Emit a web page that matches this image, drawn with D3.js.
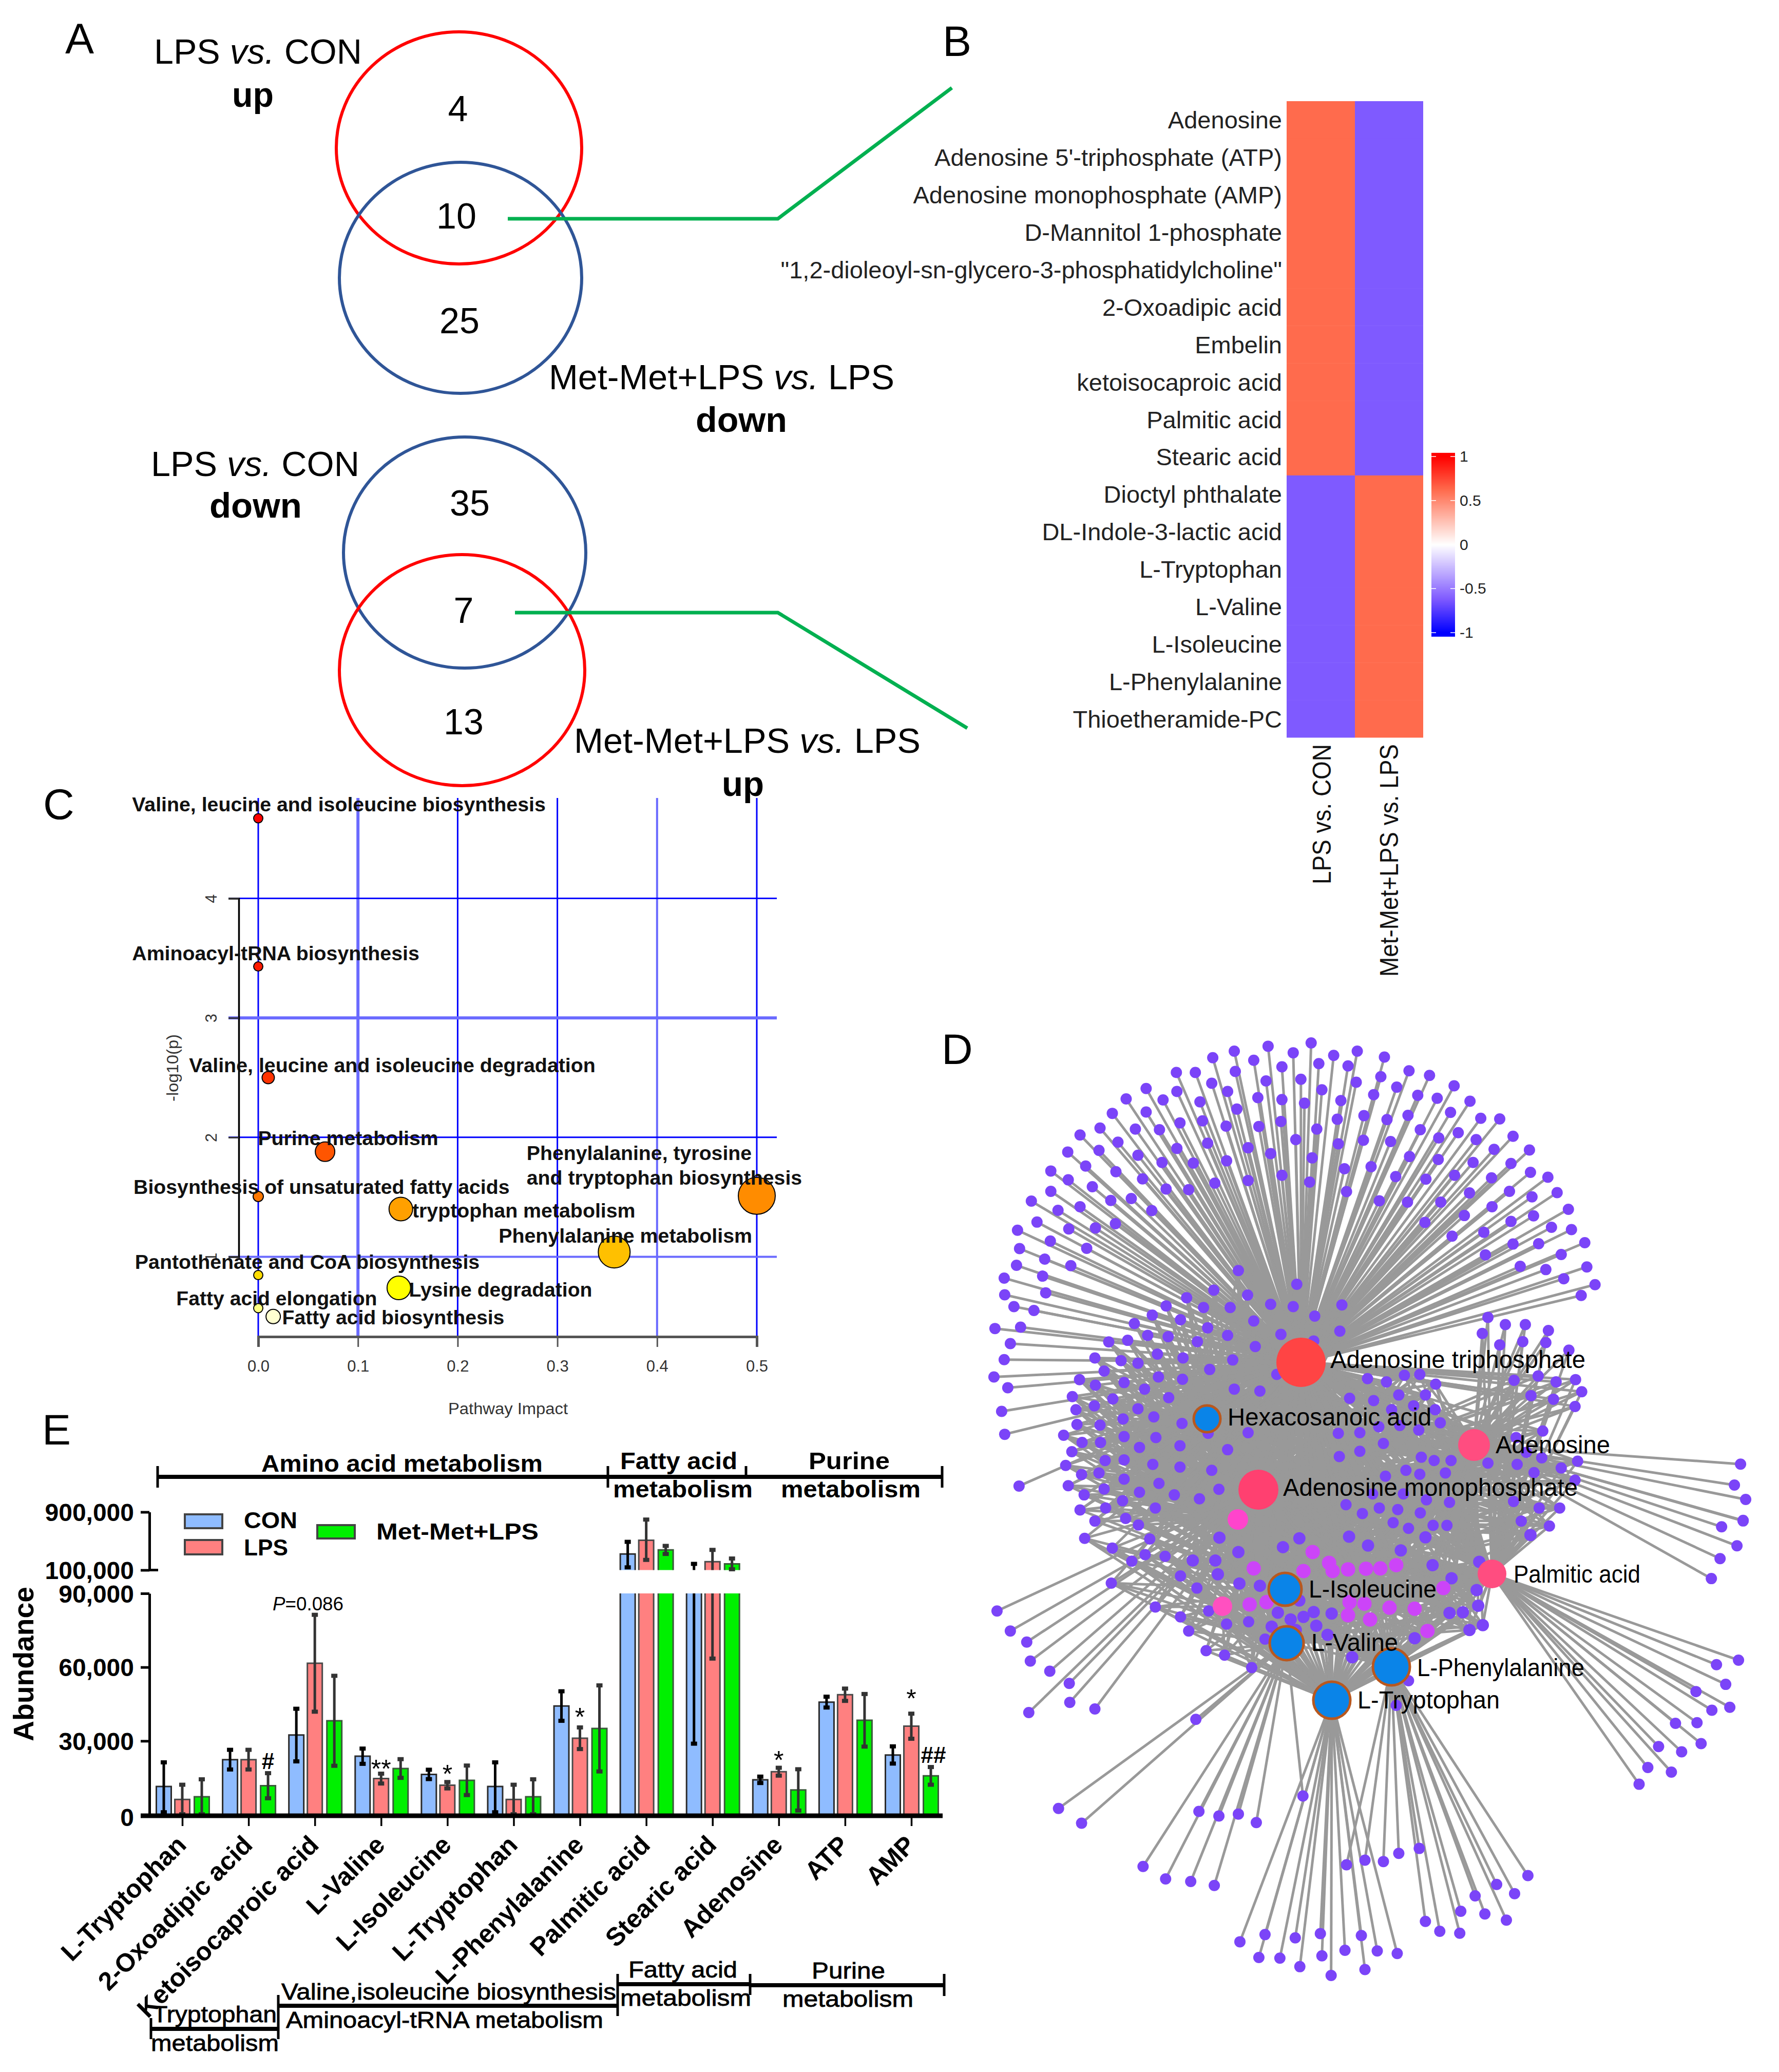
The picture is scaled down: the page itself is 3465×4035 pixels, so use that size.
<!DOCTYPE html>
<html><head><meta charset="utf-8">
<script src="https://cdnjs.cloudflare.com/ajax/libs/d3/7.8.5/d3.min.js"></script>
<style>
html,body{margin:0;padding:0;background:#fff}
text{font-family:"Liberation Sans",Arial,sans-serif}
</style></head><body><svg id="c" width="3465" height="4035" xmlns="http://www.w3.org/2000/svg"></svg>
<script>
// ---------- DATA ----------
const heatRows=["Adenosine","Adenosine 5'-triphosphate (ATP)","Adenosine monophosphate (AMP)","D-Mannitol 1-phosphate","\"1,2-dioleoyl-sn-glycero-3-phosphatidylcholine\"","2-Oxoadipic acid","Embelin","ketoisocaproic acid","Palmitic acid","Stearic acid","Dioctyl phthalate","DL-Indole-3-lactic acid","L-Tryptophan","L-Valine","L-Isoleucine","L-Phenylalanine","Thioetheramide-PC"];
const heatCols=["LPS vs. CON","Met-Met+LPS vs. LPS"];
const heatLpsCon=[.62,.62,.62,.62,.62,.62,.62,.62,.62,.62,-.62,-.62,-.62,-.62,-.62,-.62,-.62];
const heatMetLps=[-.62,-.62,-.62,-.62,-.62,-.62,-.62,-.62,-.62,-.62,.62,.62,.62,.62,.62,.62,.62];
const heatTicks=[1,.5,0,-.5,-1];

const pathNames=["Valine, leucine and isoleucine biosynthesis","Aminoacyl-tRNA biosynthesis","Valine, leucine and isoleucine degradation","Purine metabolism","Biosynthesis of unsaturated fatty acids","tryptophan metabolism","Phenylalanine, tyrosine and tryptophan biosynthesis","Phenylalanine metabolism","Pantothenate and CoA biosynthesis","Lysine degradation","Fatty acid elongation","Fatty acid biosynthesis"];
const pathImpact=[0,0,.01,.067,0,.143,.5,.357,0,.141,0,.015];
const pathLogP=[4.67,3.43,2.5,1.88,1.505,1.4,1.51,1.04,.847,.74,.57,.5];
const pathSize=[9,9,12,19,10,23,36,31,9,23,9,14];
const pathFill=["#ff0000","#ff1a00","#ff3300","#ff5500","#ff7700","#ffa000","#ff8c00","#ffc000","#ffdd00","#ffff00","#ffff80","#ffffd0"];

const abCats=["L-Tryptophan","2-Oxoadipic acid","Ketoisocaproic acid","L-Valine","L-Isoleucine","L-Tryptophan","L-Phenylalanine","Palmitic acid","Stearic acid","Adenosine","ATP","AMP"];
const conMean=[11500,22400,32400,23800,16400,11500,44200,322000,100000,14200,45800,24300];
const conHigh=[21300,26400,43100,26900,18300,21300,50200,489000,185000,15500,48000,27800];
const conLow =[1000,18400,21700,20700,14500,1000,38200,137000,28900,12900,43600,20800];
const lpsMean=[6200,22400,61600,14700,12000,6200,31100,511000,215000,17500,48800,36000];
const lpsHigh=[12200,26400,81300,16700,13300,12200,35500,796000,378000,19100,51300,41100];
const lpsLow =[200,18400,41900,12700,10700,200,26700,240000,63500,15900,46300,30900];
const metMean=[7300,11800,38200,18800,14000,7300,35100,378000,185000,10100,38400,15800];
const metHigh=[14400,16900,56500,22600,20000,14400,52600,433000,259000,18500,49100,19400];
const metLow =[200,6700,19900,15000,8000,200,17600,322000,111000,1700,27700,12200];
const lowTicks=[0,30000,60000,90000];
const highTicks=[100000,900000];
const sigMarks=["#","**","*","*","*","*","##"];
const sigGroup=[1,3,4,6,9,11,11];
const sigSeries=[2,1,1,1,1,1,2];

// network leaves in two overlapping views
const leavesTopFan=[[655,80],[571,90],[505,105],[463,125],[620,110],[699,118],[745,105],[798,123],[846,165],[886,179],[934,211],[965,258],[986,310],[1023,312],[1049,365],[1081,407],[1083,475],[1117,490],[1135,537],[1157,588],[1163,650],[1189,690],[1193,764],[1209,818],[1182,851],[392,170],[429,170],[333,219],[294,251],[267,295],[243,340],[204,361],[180,413],[147,471],[147,533],[109,563],[82,652],[86,708],[80,759],[56,798],[57,849],[75,885],[38,952],[543,133],[598,153],[670,143],[727,150],[791,183],[822,215],[863,240],[901,249],[927,292],[942,354],[977,375],[1012,405],[1045,448],[1007,492],[1042,533],[1086,550],[1008,580],[1089,608],[1045,625],[1124,643],[1049,694],[1099,693],[1143,726],[1063,762],[1113,772],[1148,800],[507,167],[567,196],[635,191],[743,200],[777,238],[803,314],[844,301],[868,345],[904,370],[903,436],[971,445],[935,484],[964,538],[954,607],[992,658],[930,670],[995,727],[461,203],[492,228],[551,247],[598,253],[642,264],[713,256],[676,223],[758,302],[706,313],[596,320],[553,335],[510,282],[438,260],[393,228],[366,254],[333,291],[312,343],[359,345],[399,324],[443,318],[489,334],[278,383],[241,408],[215,456],[181,498],[161,591],[120,627],[146,685],[135,740],[131,792],[137,843],[114,897],[88,948],[393,402],[317,423],[364,445],[274,473],[228,519],[204,580],[182,648],[217,707],[186,760],[264,561],[304,555],[344,592],[234,645],[273,632],[453,386],[532,400],[576,418],[625,375],[666,343],[708,388],[757,377],[810,381],[847,427],[772,458],[720,464],[657,431],[598,484],[652,505],[724,534],[788,562],[843,566],[877,628],[908,566],[820,488],[879,496],[490,440],[425,447],[326,495],[372,526],[416,528],[467,508],[532,500],[68,998],[56,1047],[36,1100],[63,1133],[51,1205],[57,1275],[85,1433]];
const leavesInnerRing=[[513,775],[627,817],[465,835],[531,850],[412,858],[372,883],[345,911],[445,888],[497,888],[576,878],[620,885],[715,880],[662,914],[543,929],[400,925],[310,937],[453,950],[492,973],[596,970],[711,960],[660,990],[546,1007],[433,992],[376,977],[336,973],[297,988],[260,993]];
const leavesLeftMid=[[233,1042],[284,1050],[355,1030],[405,1042],[502,1048],[317,1058],[457,1077],[251,1082],[357,1100],[404,1107],[203,1108],[234,1125],[290,1117],[330,1137],[505,1137],[555,1143],[588,1092],[189,1160],[268,1167],[377,1163],[232,1188],[196,1200],[317,1197],[348,1222],[243,1247],[198,1245],[288,1228],[403,1242],[454,1272],[532,1270],[172,1278],[208,1300],[244,1300],[290,1282],[352,1285],[399,1310],[320,1315],[492,1322],[188,1328],[253,1355],[290,1353],[346,1367],[176,1370],[399,1375],[207,1398],[241,1393],[461,1385],[290,1412],[181,1432],[358,1425],[251,1442],[320,1452],[475,1443],[437,1472],[388,1460],[212,1460],[287,1478],[204,1506],[254,1500],[351,1500],[233,1540],[293,1532],[318,1552]];
const leavesRightUp=[[1000,918],[1034,940],[1073,940],[1118,958],[989,967],[1023,1002],[1068,992],[1113,995],[1158,1018]];
const leavesRightFan=[[1051,1110],[1098,1097],[1133,1115],[1171,1108],[1183,1145],[1084,1157],[1128,1168],[1170,1190]];
const leavesRightMid=[[837,1095],[867,1092],[765,1105],[802,1115],[898,1122],[730,1165],[777,1172],[826,1155],[878,1155],[812,1200],[855,1188],[897,1200],[907,1240],[865,1262],[828,1248],[787,1252],[708,1272],[750,1270],[796,1303],[710,1343],[750,1327],[870,1345],[895,1355],[928,1355],[800,1403],[840,1385],[867,1397],[917,1393],[1000,1363],[1057,1367],[1090,1392],[1105,1347],[1143,1378],[1175,1357],[1170,1415],[1107,1265],[1055,1285],[1075,1330],[775,1457],[835,1457],[880,1475],[925,1483],[1050,1480],[1100,1500],[1140,1500],[723,1490],[755,1517],[788,1500],[824,1505],[868,1515],[893,1553],[920,1553],[815,1545],[845,1562],[1065,1540],[1120,1555]];
const leavesAdenFarTop=[[1493,1366],[1481,1430],[1503,1474],[1498,1538]];
const leavesAdenFarLow=[[1456,115],[1498,97],[1486,173],[1453,212],[1436,273]];
const leavesCentre=[[600,177],[632,150],[729,145],[766,172],[830,187],[878,147],[513,192],[476,148],[515,288],[555,295],[473,260],[468,218],[424,218],[892,232],[983,222],[929,272],[978,308],[981,356],[990,415],[964,430],[925,378],[951,376],[632,340],[590,377],[615,398],[640,390],[660,375],[695,380],[578,420],[625,430],[665,417],[687,445],[857,455],[735,513],[1083,140]];
const leavesCentrePink=[[543,242],[640,250],[690,225],[697,250],[727,245],[762,243],[790,242],[821,232],[658,192],[913,302],[882,433],[857,365],[808,362],[759,350],[730,345],[770,398],[727,385],[568,345],[535,352]];
const leavesLeftLow=[[213,150],[267,180],[340,152],[305,220],[331,200],[370,205],[400,265],[265,287],[432,302],[351,360],[400,390],[455,372],[416,433],[490,412],[533,405],[450,493],[486,507],[539,545],[565,458]];
const leavesLeftFar=[[42,372],[68,433],[100,467],[107,525],[145,556],[183,593],[184,651],[104,682],[233,671]];
const leavesValFan=[[430,703],[162,975],[207,1020],[436,984],[475,998],[513,992],[548,1018],[639,937],[327,1152],[371,1190],[420,1198],[466,1210]];
const leavesTrpFan=[[516,1382],[565,1360],[624,1370],[673,1357],[753,1363],[553,1430],[594,1432],[676,1425],[721,1408],[784,1410],[823,1418],[633,1458],[760,1467],[694,1485]];
const leavesPheFan=[[845,585],[821,660],[724,1147],[760,1133],[796,1137],[826,1112],[866,1097],[1078,1180],[1017,1207],[1052,1235],[975,1242],[947,1289],[994,1297],[1036,1316],[878,1320],[906,1350],[945,1356]];
const leavesPalFan=[[1489,522],[1446,536],[1464,596],[1406,618],[1472,666],[1437,675],[1366,715],[1408,713],[1416,777],[1333,786],[1378,802],[1312,850],[1358,864],[1295,901]];
const hubNames=["Adenosine triphosphate","Hexacosanoic acid","Adenosine","Adenosine monophosphate","","Palmitic acid","L-Isoleucine","","L-Valine","L-Phenylalanine","L-Tryptophan"];
const hubX=[2534,2351,2871,2451,2411,2906,2503,2381,2506,2710,2594];
const hubY=[2653,2763,2814,2901,2959,3065,3095,3128,3200,3246,3311];
const hubR=[48,26,31,39,20,28,32,19,33,36,36];
const hubFill=["#ff4444","#0a84e8","#ff4d80","#ff4070","#ff44cc","#ff4d80","#0a84e8","#ff50c0","#0a84e8","#0a84e8","#0a84e8"];

// ---------- LAYOUT HELPERS ----------
const svg=d3.select("#c");
svg.append("rect").attr("width",3465).attr("height",4035).attr("fill","#fff");
function txt(g,s,x1,x2,y,size,o={}){
  const t=g.append("text").attr("x",x1).attr("y",y).attr("font-size",size)
   .attr("textLength",x2-x1).attr("lengthAdjust","spacingAndGlyphs")
   .attr("font-weight",o.w||400).attr("fill",o.c||"#000").text(s);
  if(o.s)t.attr("stroke",o.c||"#000").attr("stroke-width",o.s);
  return t;
}
function vtxt(g,s,x,yTop,yBottom,size,o={}){
  const t=g.append("text").attr("transform",`translate(${x},${yBottom}) rotate(-90)`).attr("font-size",size)
   .attr("textLength",yBottom-yTop).attr("lengthAdjust","spacingAndGlyphs")
   .attr("font-weight",o.w||400).attr("fill",o.c||"#000").text(s);
  return t;
}
function vs(g,a,b,x1,x2,y,size){
  const t=g.append("text").attr("x",x1).attr("y",y).attr("font-size",size)
    .attr("textLength",x2-x1).attr("lengthAdjust","spacingAndGlyphs");
  t.append("tspan").text(a+" ");t.append("tspan").attr("font-style","italic").text("vs.");t.append("tspan").text(" "+b);
}
[["A",127,104],["B",1836,109],["C",84,1595],["D",1834,2072],["E",82,2813]].forEach(d=>
  svg.append("text").attr("x",d[1]).attr("y",d[2]).attr("font-size",84).text(d[0]));

// ---------- A ----------
const A=svg.append("g");
[[894,288,239,226,"#ff0000"],[897,541,236,225,"#2f5597"],[905,1076,236,225,"#2f5597"],[900,1305,239,225,"#ff0000"]].forEach(e=>
 A.append("ellipse").attr("cx",e[0]).attr("cy",e[1]).attr("rx",e[2]).attr("ry",e[3]).attr("fill","none").attr("stroke",e[4]).attr("stroke-width",6));
[[[989,426],[1515,426],[1854,171]],[[1003,1193],[1515,1193],[1884,1418]]].forEach(p=>
 A.append("path").attr("d",d3.line()(p)).attr("fill","none").attr("stroke","#00b050").attr("stroke-width",7));
vs(A,"LPS","CON",300,705,124,68);vs(A,"LPS","CON",294,700,927,68);
vs(A,"Met-Met+LPS","LPS",1069,1742,758,68);vs(A,"Met-Met+LPS","LPS",1118,1793,1466,68);
txt(A,"up",452,533,208,68,{w:700});txt(A,"down",408,588,1008,68,{w:700});
txt(A,"down",1355,1533,841,68,{w:700});txt(A,"up",1406,1488,1550,68,{w:700});
[["4",892,236],["10",889,445],["25",895,649],["35",915,1004],["7",903,1213],["13",903,1430]].forEach(d=>
 A.append("text").attr("x",d[1]).attr("y",d[2]).attr("font-size",70).attr("text-anchor","middle").text(d[0]));

// ---------- B ----------
const B=svg.append("g");
const hx=d3.scaleBand().domain(heatCols).range([2506,2772]);
const hy=d3.scaleBand().domain(heatRows).range([197,1436]);
const hc=d3.scaleLinear().domain([-1,-.62,0,.62,1]).range(["#0000ff","#7f5aff","#ffffff","#ff6b4d","#ff0000"]);
[heatLpsCon,heatMetLps].forEach((vals,c)=>B.selectAll(null).data(vals).join("rect")
 .attr("x",hx(heatCols[c])).attr("y",(d,i)=>hy(heatRows[i])).attr("width",hx.bandwidth()).attr("height",hy.bandwidth()+.5).attr("fill",d=>hc(d)));
B.selectAll(null).data(heatRows).join("text").attr("x",2497).attr("y",d=>hy(d)+hy.bandwidth()/2+17).attr("text-anchor","end").attr("font-size",47).attr("fill","#222").text(d=>d);
vtxt(B,heatCols[0],2592,1449,1722,50,{c:"#111"});
vtxt(B,heatCols[1],2723,1449,1902,50,{c:"#111"});
const cby=d3.scaleLinear().domain([-1,1]).range([1232,889]);
B.selectAll(null).data(d3.range(-1.04,1.04,.01)).join("rect").attr("x",2788).attr("width",46).attr("y",d=>cby(d)-2).attr("height",3).attr("fill",d=>hc(Math.max(-1,Math.min(1,d))));
heatTicks.forEach(t=>{
 B.append("line").attr("x1",2788).attr("x2",2797).attr("y1",cby(t)).attr("y2",cby(t)).attr("stroke","#fff").attr("stroke-width",1.5);
 B.append("line").attr("x1",2825).attr("x2",2834).attr("y1",cby(t)).attr("y2",cby(t)).attr("stroke","#fff").attr("stroke-width",1.5);
 B.append("text").attr("x",2843).attr("y",cby(t)+10).attr("font-size",30).attr("fill","#222").text(t);
});

// ---------- C ----------
const C=svg.append("g");
const cx=d3.scaleLinear().domain([0,.5]).range([503,1474]);
const cy=d3.scaleLinear().domain([1,4]).range([2447.5,1749.5]);
[0,.1,.2,.3,.4,.5].forEach(v=>C.append("line").attr("x1",cx(v)).attr("x2",cx(v)).attr("y1",1554).attr("y2",2603)
  .attr("stroke",(v==.1||v==.4)?"#6a6aff":"#0000ff").attr("stroke-width",(v==.1)?6:(v==.4?4:3)));
[1,2,3,4].forEach(v=>C.append("line").attr("x1",445).attr("x2",1513).attr("y1",cy(v)).attr("y2",cy(v))
  .attr("stroke",(v==3||v==1)?"#6a6aff":"#0000ff").attr("stroke-width",(v==3)?6:(v==1?4:3)));
const cxa=C.append("g").attr("transform","translate(0,2603)").call(d3.axisBottom(cx).tickValues([0,.1,.2,.3,.4,.5]).tickFormat(d3.format(".1f")).tickSize(20));
cxa.select(".domain").attr("stroke","#555").attr("stroke-width",5);
cxa.selectAll("line").attr("stroke","#555").attr("stroke-width",3);
cxa.selectAll("text").attr("font-size",31).attr("fill","#333").attr("font-family","Liberation Sans").attr("y",46).attr("dy",".7em");
const cya=C.append("g").attr("transform","translate(465,0)").call(d3.axisLeft(cy).tickValues([1,2,3,4]).tickFormat(d3.format("d")).tickSize(20));
cya.select(".domain").attr("stroke","#000").attr("stroke-width",3.5);
cya.selectAll("line").attr("stroke","#333").attr("stroke-width",3);
cya.selectAll("text").attr("font-size",31).attr("fill","#333").attr("font-family","Liberation Sans").attr("text-anchor","middle").attr("x",0).attr("dy",0).attr("transform","translate(-43,0) rotate(-90)").attr("y",0);
vtxt(C,"-log10(p)",347,2014,2145,31,{c:"#333"});
txt(C,"Pathway Impact",873,1106,2754,31,{c:"#333"});
C.selectAll(null).data(pathNames).join("circle").attr("cx",(d,i)=>cx(pathImpact[i])).attr("cy",(d,i)=>cy(pathLogP[i])).attr("r",(d,i)=>pathSize[i]).attr("fill",(d,i)=>pathFill[i]).attr("stroke","#000").attr("stroke-width",2);
const zx=v=>200+v*1450/1568, zy=v=>1500+v*1300/1568;
[["Valine, leucine and isoleucine biosynthesis",62,933,97],["Aminoacyl-tRNA biosynthesis",62,667,446],["Valine, leucine and isoleucine degradation",182,1038,709],["Purine metabolism",327,707,880],["Phenylalanine, tyrosine",893,1367,916],["and tryptophan biosynthesis",893,1473,973],["Biosynthesis of unsaturated fatty acids",65,857,995],["tryptophan metabolism",652,1122,1050],["Phenylalanine metabolism",834,1368,1110],["Pantothenate and CoA biosynthesis",68,794,1171],["Lysine degradation",645,1031,1236],["Fatty acid elongation",155,578,1257],["Fatty acid biosynthesis",378,846,1302]]
 .forEach(d=>txt(C,d[0],zx(d[1]),zx(d[2]),zy(d[3]),38,{w:700,c:"#111"}));

// ---------- E ----------
const E=svg.append("g");
const yLow=d3.scaleLinear().domain([0,90000]).range([3534,3103]);
const yHigh=d3.scaleLinear().domain([100000,900000]).range([3057.5,2944.5]);
const xE=d3.scalePoint().domain(d3.range(abCats.length)).range([355,1775]);
const off=[-36,0,38], barW=29;
const series=[{m:conMean,h:conHigh,l:conLow,f:"#8fbcff",s:"#2b2b2b",e:"#000"},{m:lpsMean,h:lpsHigh,l:lpsLow,f:"#ff8080",s:"#4a4a4a",e:"#333"},{m:metMean,h:metHigh,l:metLow,f:"#00f000",s:"#3a5a3a",e:"#333"}];
series.forEach((S,k)=>{
 const gs=E.append("g");
 S.m.forEach((m,i)=>{
  const xc=xE(i)+off[k], x0=xc-barW/2, x1=xc+barW/2;
  const topLow=yLow(Math.min(m,90000));
  gs.append("rect").attr("x",x0).attr("y",topLow).attr("width",barW).attr("height",yLow(0)-topLow).attr("fill",S.f);
  gs.append("path").attr("d",m>90000?`M${x0},${yLow(0)}V${topLow}M${x1},${topLow}V${yLow(0)}`:`M${x0},${yLow(0)}V${topLow}H${x1}V${yLow(0)}`).attr("fill","none").attr("stroke",S.s).attr("stroke-width",3);
  if(m>100000){
   gs.append("rect").attr("x",x0).attr("y",yHigh(m)).attr("width",barW).attr("height",yHigh(100000)-yHigh(m)).attr("fill",S.f);
   gs.append("path").attr("d",`M${x0},${yHigh(100000)}V${yHigh(m)}H${x1}V${yHigh(100000)}`).attr("fill","none").attr("stroke",S.s).attr("stroke-width",3);
  }
  const hi=S.h[i], lo=S.l[i], pos=v=>v<=90000?yLow(v):yHigh(v);
  const bar=(a,b)=>gs.append("line").attr("x1",xc).attr("x2",xc).attr("y1",a).attr("y2",b).attr("stroke",S.e).attr("stroke-width",5);
  if(lo<90000)bar(yLow(lo),yLow(Math.min(hi,90000)));
  if(hi>100000)bar(yHigh(Math.max(lo,100000)),yHigh(hi));
  [hi,lo].forEach(v=>gs.append("rect").attr("x",xc-6).attr("y",pos(v)-4).attr("width",12).attr("height",8).attr("fill",S.e));
 });
});
function styleAx(a,w,lw){a.select(".domain").attr("stroke","#000").attr("stroke-width",w);a.selectAll("line").attr("stroke","#000").attr("stroke-width",lw);
 a.selectAll("text").attr("font-size",48).attr("font-weight",700).attr("fill","#000").attr("font-family","Liberation Sans").attr("x",-30).attr("dy",".36em");}
const fmt=d3.format(",");
const aL=E.append("g").attr("transform","translate(291,0)").call(d3.axisLeft(yLow).tickValues(lowTicks).tickFormat(fmt).tickSize(17).tickSizeOuter(0));styleAx(aL,5,5);
aL.selectAll("text").filter(d=>d==0).attr("dy",".44em");
const aH=E.append("g").attr("transform","translate(291,0)").call(d3.axisLeft(yHigh).tickValues(highTicks).tickFormat(fmt).tickSize(17).tickSizeOuter(0));styleAx(aH,5,5);
E.append("line").attr("x1",291).attr("x2",308).attr("y1",yHigh(100000)).attr("y2",yHigh(100000)).attr("stroke","#000").attr("stroke-width",5);
const aX=E.append("g").attr("transform","translate(0,3536)").call(d3.axisBottom(xE).tickFormat(i=>abCats[i]).tickSize(20).tickSizeOuter(0));
aX.select(".domain").attr("stroke","#000").attr("stroke-width",9).attr("d","M274,0H1836");
aX.selectAll("line").attr("stroke","#000").attr("stroke-width",3.5);
aX.selectAll("text").attr("font-size",50).attr("font-weight",700).attr("fill","#000").attr("font-family","Liberation Sans").attr("text-anchor","end").attr("dy",0).attr("y",0).attr("transform","translate(10,60) rotate(-45)");
vtxt(E,"Abundance",65,3090,3391,55,{w:700});
[["CON",360,433,2949,2976,"#8fbcff",475,579,2976],["LPS",360,433,2999,3027,"#ff8080",475,561,3029],["Met-Met+LPS",618,691,2970,2996,"#00f000",733,1049,2998]].forEach(d=>{
 E.append("rect").attr("x",d[1]).attr("y",d[3]).attr("width",d[2]-d[1]).attr("height",d[4]-d[3]).attr("fill",d[5]).attr("stroke","#444").attr("stroke-width",4);
 txt(E,d[0],d[6],d[7],d[8],44,{w:700});
});
const pT=E.append("text").attr("x",531).attr("y",3136).attr("font-size",36).attr("textLength",138).attr("lengthAdjust","spacingAndGlyphs");
pT.append("tspan").attr("font-style","italic").text("P");pT.append("tspan").text("=0.086");
const sigGap=[8,-8,-2,3,-2,12,8];
sigMarks.forEach((s,j)=>{
 const k=sigSeries[j], i=sigGroup[j], up=[conHigh,lpsHigh,metHigh][k][i];
 E.append("text").attr("x",xE(i)+off[k]+(s=="##"?5:0)).attr("y",yLow(up)-sigGap[j]).attr("text-anchor","middle").attr("font-size",s.includes("#")?44:50).attr("font-weight",s.includes("#")?700:400).text(s);
});
function bracket(g,x1,x2,y,ticks){
 g.append("line").attr("x1",x1).attr("x2",x2).attr("y1",y).attr("y2",y).attr("stroke","#000").attr("stroke-width",8);
 ticks.forEach(t=>g.append("line").attr("x1",t[0]).attr("x2",t[0]).attr("y1",t[1]).attr("y2",t[2]).attr("stroke","#000").attr("stroke-width",5));
}
bracket(E,307,1184,2876,[[307,2855,2897],[1184,2855,2897]]);
bracket(E,1184,1453,2876,[[1453,2855,2876]]);
bracket(E,1453,1835,2876,[[1835,2855,2897]]);
[["Amino acid metabolism",509,1057,2866],["Fatty acid",1208,1436,2861],["metabolism",1194,1466,2916],["Purine",1575,1733,2861],["metabolism",1521,1793,2916]].forEach(d=>txt(E,d[0],d[1],d[2],d[3],47,{w:700}));
bracket(E,294,542,3951,[[294,3930,3971],[542,3885,3971]]);
bracket(E,542,1203,3906,[[1203,3844,3926]]);
bracket(E,1203,1461,3864,[[1461,3844,3885]]);
bracket(E,1461,1839,3866,[[1839,3844,3887]]);
[["Tryptophan",297,539,3938],["metabolism",294,543,3994],["Valine,isoleucine biosynthesis",548,1200,3894],["Aminoacyl-tRNA metabolism",557,1175,3949],["Fatty acid",1224,1436,3851],["metabolism",1208,1463,3906],["Purine",1581,1724,3853],["metabolism",1524,1779,3908]].forEach(d=>txt(E,d[0],d[1],d[2],d[3],44,{s:.8}));

// ---------- D ----------
const D=svg.append("g");
const nx=d3.scaleLinear().domain([0,1568]).range([1900,3465]);
const nyT=d3.scaleLinear().domain([0,1568]).range([1980,2980]);
const nyB=d3.scaleLinear().domain([0,1568]).range([2900,3900]);
const [ATP,HEX,ADE,AMP,MG1,PAL,ILE,MG2,VAL,PHE,TRP]=d3.range(11);
const purple="#7b44f8", pink="#cc44f8";
const groups=[
 {p:leavesTopFan,y:nyT,hubs:[ATP],f:purple,r:11},
 {p:leavesInnerRing,y:nyT,hubs:[ATP,AMP,HEX,MG1],f:purple,r:11},
 {p:leavesLeftMid,y:nyT,hubs:[ATP,AMP,HEX,MG1,ILE],f:purple,r:11},
 {p:leavesRightUp,y:nyT,hubs:[ADE,PAL],f:purple,r:11},
 {p:leavesRightFan,y:nyT,hubs:[ATP,ADE,PAL,AMP],f:purple,r:11},
 {p:leavesRightMid,y:nyT,hubs:[ATP,ADE,PAL,AMP,MG1,HEX,ILE],f:purple,r:11},
 {p:leavesAdenFarTop,y:nyT,hubs:[ADE],f:purple,r:11},
 {p:leavesAdenFarLow,y:nyB,hubs:[ADE],f:purple,r:11},
 {p:leavesCentre,y:nyB,hubs:[ATP,AMP,PAL,VAL,ILE,PHE,ADE,TRP,MG1,HEX],f:purple,r:12},
 {p:leavesCentrePink,y:nyB,hubs:[AMP,ATP,PAL,ILE,VAL,PHE,ADE,TRP,MG1,MG2,HEX],f:pink,r:14},
 {p:leavesLeftLow,y:nyB,hubs:[AMP,VAL,ILE,ATP,MG2,TRP],f:purple,r:11},
 {p:leavesLeftFar,y:nyB,hubs:[AMP],f:purple,r:11},
 {p:leavesValFan,y:nyB,hubs:[VAL],f:purple,r:11},
 {p:leavesTrpFan,y:nyB,hubs:[TRP],f:purple,r:11},
 {p:leavesPheFan,y:nyB,hubs:[PHE],f:purple,r:11},
 {p:leavesPalFan,y:nyB,hubs:[PAL],f:purple,r:11}];
const edges=D.append("g").attr("stroke","#999").attr("stroke-width",5);
groups.forEach(g=>g.p.forEach(q=>g.hubs.forEach(h=>edges.append("line").attr("x1",nx(q[0])).attr("y1",g.y(q[1])).attr("x2",hubX[h]).attr("y2",hubY[h]))));
[[VAL,TRP],[ILE,TRP],[PHE,TRP],[ILE,PAL],[MG2,VAL]].forEach(e=>edges.append("line").attr("x1",hubX[e[0]]).attr("y1",hubY[e[0]]).attr("x2",hubX[e[1]]).attr("y2",hubY[e[1]]));
groups.forEach(g=>D.append("g").selectAll("circle").data(g.p).join("circle").attr("cx",d=>nx(d[0])).attr("cy",d=>g.y(d[1])).attr("r",g.r).attr("fill",g.f));
D.append("g").selectAll("circle").data(hubNames).join("circle").attr("cx",(d,i)=>hubX[i]).attr("cy",(d,i)=>hubY[i]).attr("r",(d,i)=>hubR[i]).attr("fill",(d,i)=>hubFill[i])
 .attr("stroke",(d,i)=>hubFill[i]=="#0a84e8"?"#b8581f":"none").attr("stroke-width",5);
[[0,2591,3088,2664],[1,2391,2788,2776],[2,2913,3136,2830],[3,2499,3073,2913],[5,2948,3195,3082],[6,2549,2798,3111],[8,2554,2723,3215],[9,2760,3086,3264],[10,2644,2921,3327]].forEach(d=>txt(D,hubNames[d[0]],d[1],d[2],d[3],48));
</script></body></html>
